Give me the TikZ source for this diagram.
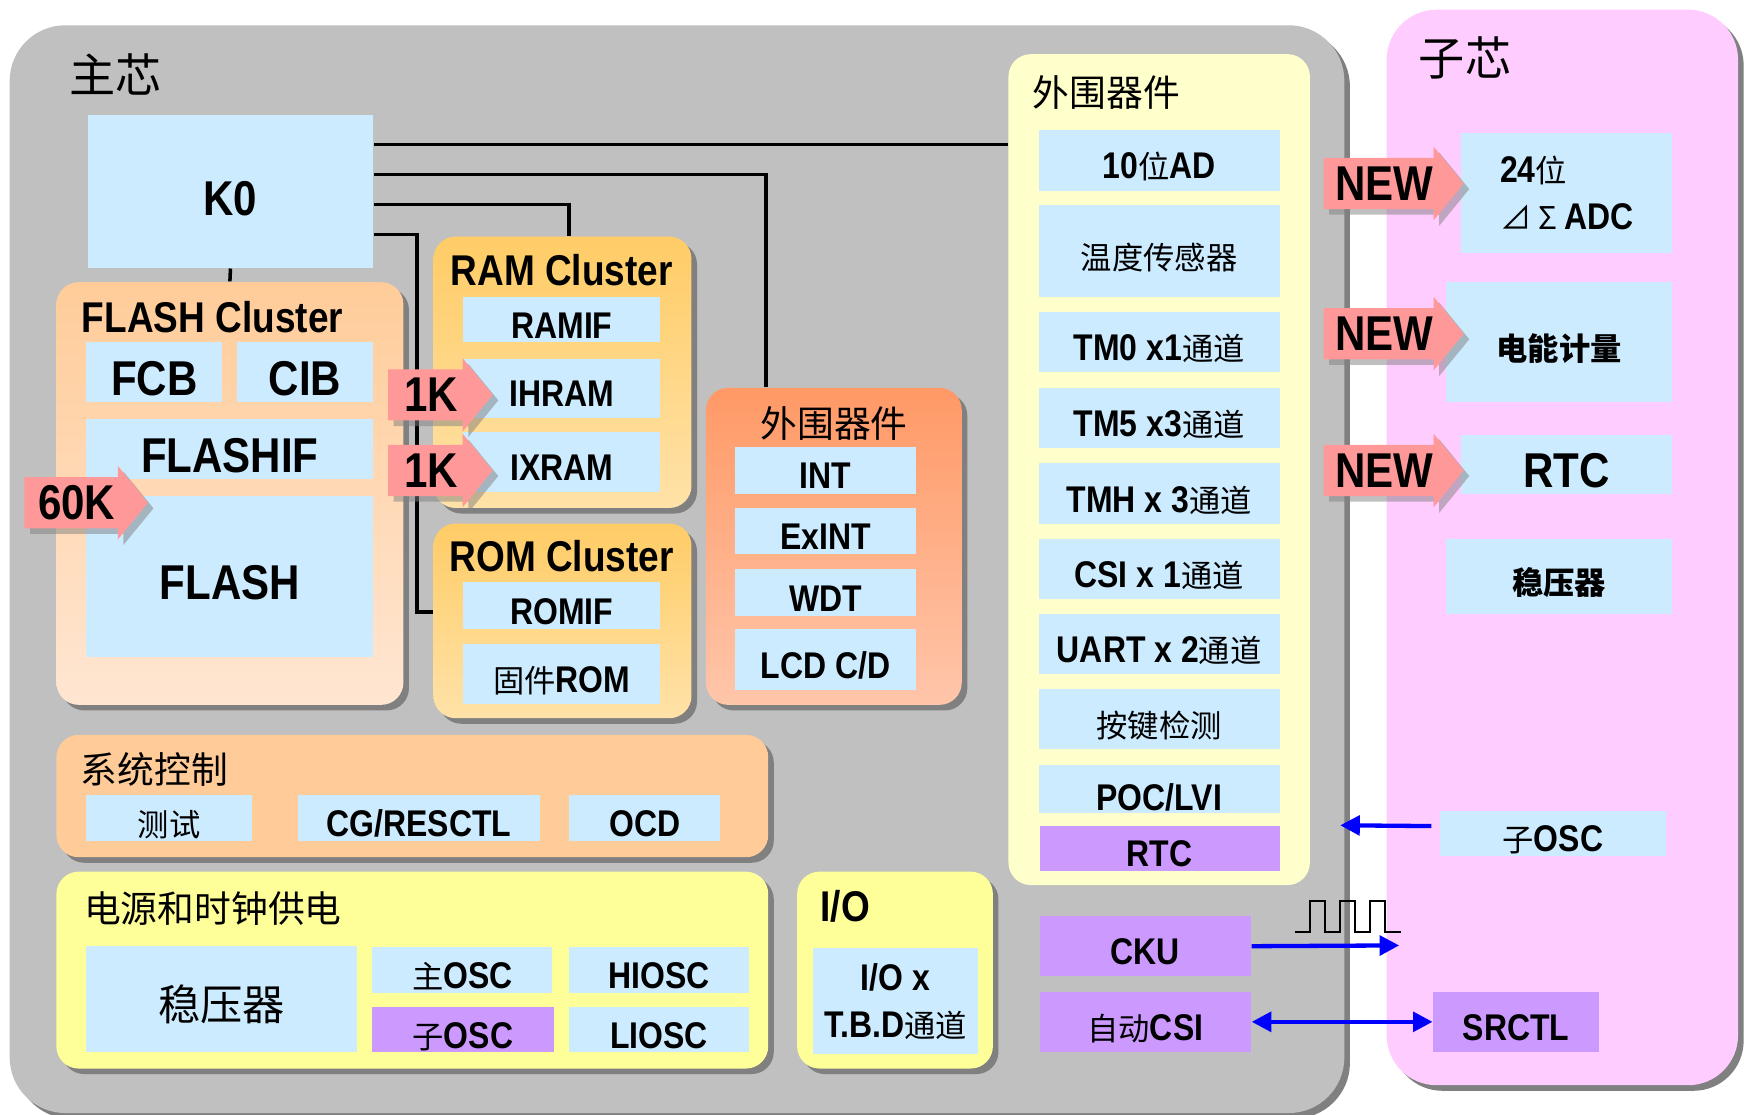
\documentclass[tikz,border=0pt]{standalone}
\usepackage{fontspec}
\setsansfont[FakeStretch=0.86]{Liberation Sans}
\newfontfamily\cjk{Noto Sans CJK SC}
\usepackage{tikz}
\usetikzlibrary{positioning,shadows,arrows.meta}

\definecolor{chipgray}{HTML}{C0C0C0}
\definecolor{subpink}{HTML}{FFCCFF}
\definecolor{itemblue}{HTML}{CCEBFF}
\definecolor{itempurple}{HTML}{CC99FF}
\definecolor{peach}{HTML}{FFCC99}
\definecolor{peachlt}{HTML}{FFE6D2}
\definecolor{amber}{HTML}{FFCC66}
\definecolor{amberlt}{HTML}{FFE2A8}
\definecolor{coral}{HTML}{FF9966}
\definecolor{corallt}{HTML}{FFC6AA}
\definecolor{lemon}{HTML}{FFFF99}
\definecolor{cream}{HTML}{FFFFCC}
\definecolor{tagred}{HTML}{FF9999}

\tikzset{wh/.style 2 args={minimum width=#1*0.01cm, minimum height=#2*0.01cm}}

\newcommand{\zh}[1]{{\cjk\mdseries\fontsize{8}{10}\selectfont #1}}
\newcommand{\zhb}[1]{{\cjk\fontsize{8}{10}\selectfont #1}}
% pink block arrow with a label: name, left x, centre y, length, text
\newcommand{\tagarrow}[5]{%
  \begin{scope}[shift={(#2,#3)}]
    \fill[gray,opacity=.5] (5,-18) -- ({#4-22},-18) -- ({#4-22},-28) -- ({#4+5},5) -- ({#4-22},38) -- ({#4-22},28) -- (5,28) -- cycle;
    \fill[tagred] (0,-23) -- ({#4-27},-23) -- ({#4-27},-33) -- (#4,0) -- ({#4-27},33) -- ({#4-27},23) -- (0,23) -- cycle;
    \node[big, inner sep=0pt, text height={}, text depth={}] (#1) at ({(#4-27)/2+5},0) {#5};
  \end{scope}}

\begin{document}
\begin{tikzpicture}[x=0.01cm, y=-0.01cm, font=\sffamily\bfseries,
  box/.style={anchor=north west, inner sep=0pt, fill=itemblue, text height=9.5pt, text depth=0pt, font=\sffamily\bfseries\fontsize{9.5}{12}\selectfont},
  pbox/.style={box, fill=itempurple},
  grpns/.style={anchor=north west, inner sep=0pt, rounded corners=0.2cm},
  grp/.style={grpns, drop shadow={shadow xshift=0.05cm, shadow yshift=-0.05cm, fill=black!50, opacity=1}},
  big/.style={text height=12pt, text depth=0pt, font=\sffamily\bfseries\fontsize{12.5}{14}\selectfont},
  ttl/.style={anchor=west, inner sep=0pt, font=\sffamily\bfseries\fontsize{11}{13}\selectfont},
  zhttl/.style={anchor=west, inner sep=0pt, font=\cjk\mdseries\fontsize{9.4}{11}\selectfont},
  wire/.style={line width=0.9pt},
  barrow/.style={draw=blue, line width=1.1pt, -{Triangle[length=5pt,width=5pt]}}]
\useasboundingbox (0,0) rectangle (1568,1002);

% the two chips
\node[grp, fill=chipgray, rounded corners=0.5cm, wh={1200}{978}] (mainchip) at (8,22) {};
\node[grp, fill=subpink, rounded corners=0.45cm, wh={316}{967}] (subchip) at (1246,8) {};
\node[zhttl, font=\cjk\mdseries\fontsize{11.8}{13}\selectfont] (maint) at (62,67) {主芯};
\node[zhttl, font=\cjk\mdseries\fontsize{11.8}{13}\selectfont] (subt) at (1275,52) {子芯};

% CPU
\node[box, big, wh={257}{137}] (k0) at (78,103) {K0};

% FLASH
\node[grp, top color=peach, bottom color=peachlt, wh={312}{380}] (flashcl) at (50,253) {};
\node[ttl] (flashclt) at (73,285) {FLASH Cluster};
\node[box, big, wh={122}{54}] (fcb) at (77,307) {FCB};
\node[box, big, wh={123}{54}] (cib) at (212,307) {CIB};
\node[box, big, wh={258}{54}] (flashif) at (77,376) {FLASHIF};
\node[box, big, wh={258}{145}] (flash) at (77,445) {FLASH};

% RAM
\node[grp, top color=amber, bottom color=amberlt, wh={232}{244}] (ramcl) at (389,212) {};
\node[ttl, anchor=center] (ramclt) at (505,243) {RAM Cluster};
\node[box, wh={177}{41}] (ramif) at (416,266) {RAMIF};
\node[box, wh={177}{53}] (ihram) at (416,322) {IHRAM};
\node[box, wh={177}{54}] (ixram) at (416,388) {IXRAM};

% ROM
\node[grp, top color=amber, bottom color=amberlt, wh={232}{175}] (romcl) at (389,470) {};
\node[ttl, anchor=center] (romclt) at (505,500) {ROM Cluster};
\node[box, wh={177}{42}] (romif) at (416,523) {ROMIF};
\node[box, wh={177}{54}] (fwrom) at (416,578) {\zh{固件}ROM};

% small peripherals
\node[grp, top color=coral, bottom color=corallt, wh={230}{285}] (perio) at (634,348) {};
\node[zhttl, anchor=center] (periot) at (750,381) {外围器件};
\node[box, wh={163}{42}] (int) at (660,401) {INT};
\node[box, wh={163}{41}] (exint) at (660,456) {ExINT};
\node[box, wh={163}{42}] (wdt) at (660,511) {WDT};
\node[box, wh={163}{55}] (lcd) at (660,565) {LCD C/D};

% peripherals column
\node[grpns, fill=cream, wh={271}{747}] (perir) at (906,48) {};
\node[zhttl] (perirt) at (928,83) {外围器件};
\node[box, wh={217}{55}] (ad10) at (933,116) {10\zh{位}AD};
\node[box, wh={217}{82}] (temp) at (933,184) {\zh{温度传感器}};
\node[box, wh={217}{54}] (tm0) at (933,280) {TM0 x1\zh{通道}};
\node[box, wh={217}{54}] (tm5) at (933,348) {TM5 x3\zh{通道}};
\node[box, wh={217}{54}] (tmh) at (933,416) {TMH x 3\zh{通道}};
\node[box, wh={217}{54}] (csi) at (933,484) {CSI x 1\zh{通道}};
\node[box, wh={217}{54}] (uart) at (933,551) {UART x 2\zh{通道}};
\node[box, wh={217}{54}] (key) at (933,619) {\zh{按键检测}};
\node[box, wh={217}{43}, text height=0.39cm, text depth=0cm] (poc) at (933,687) {POC/LVI};
\node[pbox, wh={216}{40}] (rtc) at (934,742) {RTC};

% system control
\node[grp, fill=peach, wh={640}{110}] (sysctl) at (50,660) {};
\node[zhttl] (sysctlt) at (72,692) {系统控制};
\node[box, wh={149}{41}] (test) at (77,714) {\zh{测试}};
\node[box, wh={218}{41}] (cgres) at (267,714) {CG/RESCTL};
\node[box, wh={136}{41}] (ocd) at (511,714) {OCD};

% power and clock
\node[grp, fill=lemon, wh={640}{177}] (power) at (50,783) {};
\node[zhttl] (powert) at (75,817) {电源和时钟供电};
\node[box, wh={243}{95}, text height=11pt] (vreg) at (77,850) {{\cjk\mdseries\fontsize{10.8}{12}\selectfont 稳压器}};
\node[box, wh={162}{41}] (mosc) at (334,851) {\zh{主}OSC};
\node[box, wh={162}{41}] (hiosc) at (511,851) {HIOSC};
\node[pbox, wh={163}{40}] (sosc) at (334,905) {\zh{子}OSC};
\node[box, wh={162}{40}] (liosc) at (511,905) {LIOSC};

% I/O
\node[grp, fill=lemon, wh={176}{177}] (io) at (716,783) {};
\node[ttl] (iot) at (737,815) {I/O};
\node[box, align=center, text height={}, text depth={}, wh={149}{95}] (iox) at (730,852) {I/O x\\T.B.D\zh{通道}};

\node[pbox, wh={190}{54}] (cku) at (934,823) {CKU};
\node[pbox, wh={190}{54}] (acsi) at (934,891) {\zh{自动}CSI};

% sub chip blocks
\node[box, align=left, text height={}, text depth={}, wh={190}{108}] (adc24) at (1313,119) {24\zh{位}\\\zh{⊿ Σ }ADC};
\node[box, wh={204}{108}] (meter) at (1299,253) {\zhb{电能计量}};
\node[box, big, wh={190}{53}] (rtcs) at (1313,390) {RTC};
\node[box, wh={204}{67}] (vregs) at (1299,484) {\zhb{稳压器}};
\node[box, wh={203}{41}] (osc2) at (1294,728) {\zh{子}OSC};
\node[pbox, wh={149}{54}] (srctl) at (1288,891) {SRCTL};

% buses from K0
\draw[wire] (k0.east |- 0,130) -- (perir.west |- 0,130);
\draw[wire] (k0.east |- 0,157) -| ([xshift=-0.61cm]perio.north);
\draw[wire] (k0.east |- 0,184) -| ([xshift=0.06cm]ramcl.north);
\draw[wire] (k0.east |- 0,211) -| (375,550) -- (romcl.west |- 0,550);
\draw[wire] (k0.south) -- (flashcl.north);

% sizes and NEW tags
\tagarrow{k60}{22}{452}{111}{60K}
\tagarrow{k1a}{349}{355}{94}{1K}
\tagarrow{k1b}{349}{423}{94}{1K}
\tagarrow{new1}{1190}{165}{126}{NEW}
\tagarrow{new2}{1190}{300}{126}{NEW}
\tagarrow{new3}{1190}{423}{126}{NEW}

% clock and links between chips
\coordinate (oscend) at (1205,742);
\coordinate (ckend) at (1258,850);
\draw[barrow] ([xshift=-0.07cm,yshift=0.065cm]osc2.west) -- (oscend);
\draw[barrow] (cku.east) -- (ckend);
\draw[barrow, {Triangle[length=5pt,width=5pt]}-{Triangle[length=5pt,width=5pt]}] (acsi.east) -- (srctl.west);
\draw[line width=0.6pt] (1164,838) foreach \px in {1178,1205,1232} {-- (\px,838) -- (\px,810) -- ({\px+13},810) -- ({\px+13},838)} -- (1260,838);
\end{tikzpicture}
\end{document}
